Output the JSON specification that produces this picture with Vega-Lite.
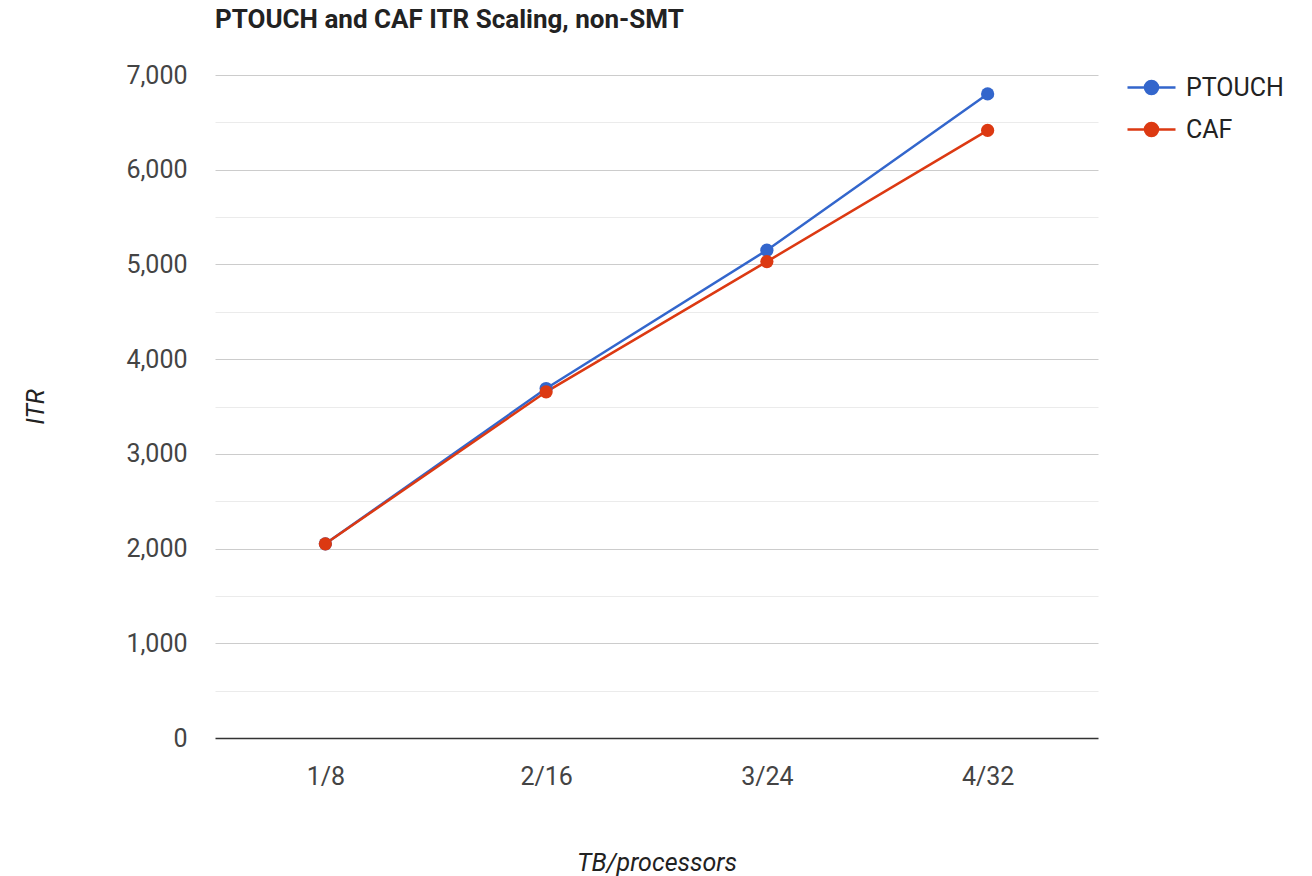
{
  "$schema": "https://vega.github.io/schema/vega-lite/v6.json",
  "autosize": {"type": "none"},
  "width": 883,
  "height": 663,
  "padding": {"left": 215, "top": 75, "right": 214, "bottom": 138},
  "background": "white",
  "title": {
    "text": "PTOUCH and CAF ITR Scaling, non-SMT",
    "anchor": "start",
    "frame": "group",
    "font": "Roboto",
    "fontSize": 26,
    "fontWeight": "bold",
    "color": "#222222",
    "offset": 30
  },
  "config": {
    "view": {"stroke": null},
    "axis": {"labelFont": "Roboto", "titleFont": "Roboto", "labelColor": "#444444", "titleColor": "#222222"}
  },
  "data": {
    "values": [
      {"tb": "1/8", "series": "PTOUCH", "itr": 2050},
      {"tb": "2/16", "series": "PTOUCH", "itr": 3690},
      {"tb": "3/24", "series": "PTOUCH", "itr": 5150},
      {"tb": "4/32", "series": "PTOUCH", "itr": 6800},
      {"tb": "1/8", "series": "CAF", "itr": 2050},
      {"tb": "2/16", "series": "CAF", "itr": 3655},
      {"tb": "3/24", "series": "CAF", "itr": 5030},
      {"tb": "4/32", "series": "CAF", "itr": 6415}
    ]
  },
  "mark": {"type": "line", "strokeWidth": 2.5, "point": {"filled": true, "size": 175, "opacity": 1}},
  "encoding": {
    "x": {
      "field": "tb",
      "type": "ordinal",
      "sort": ["1/8", "2/16", "3/24", "4/32"],
      "scale": {"type": "point", "padding": 0.5},
      "axis": {
        "title": "TB/processors",
        "titleFontStyle": "italic",
        "titleFontWeight": "normal",
        "titleFontSize": 25,
        "titleX": 441.5,
        "titleY": 124,
        "titleBaseline": "middle",
        "labelAngle": 0,
        "labelFontSize": 25,
        "labelPadding": 26,
        "ticks": false,
        "domain": false,
        "grid": false
      }
    },
    "y": {
      "field": "itr",
      "type": "quantitative",
      "scale": {"domain": [0, 7000], "nice": false},
      "axis": {
        "title": "ITR",
        "titleFontStyle": "italic",
        "titleFontWeight": "normal",
        "titleFontSize": 25,
        "titleX": -180,
        "titleY": 331.5,
        "titleAlign": "center",
        "titleBaseline": "middle",
        "values": [0, 500, 1000, 1500, 2000, 2500, 3000, 3500, 4000, 4500, 5000, 5500, 6000, 6500, 7000],
        "labelExpr": "datum.value % 1000 === 0 ? format(datum.value, ',') : ''",
        "labelFontSize": 25,
        "labelPadding": 28,
        "ticks": false,
        "domain": false,
        "grid": true,
        "gridColor": {"condition": [{"test": "datum.value === 0", "value": "#333333"}, {"test": "datum.value % 1000 === 0", "value": "#cccccc"}], "value": "#ebebeb"},
        "gridWidth": {"condition": {"test": "datum.value === 0", "value": 1.5}, "value": 1}
      }
    },
    "color": {
      "field": "series",
      "type": "nominal",
      "sort": ["PTOUCH", "CAF"],
      "scale": {"domain": ["PTOUCH", "CAF"], "range": ["#3366cc", "#dc3912"]},
      "legend": {
        "title": null,
        "orient": "none",
        "legendX": 917,
        "legendY": -10,
        "padding": 0,
        "symbolType": "M -1.286 0 L -0.453 0 M 0.167 0 L 1 0 M -0.453 0 A 0.31 0.31 0 1 0 0.167 0 A 0.31 0.31 0 1 0 -0.453 0 Z",
        "symbolSize": 1764,
        "symbolStrokeWidth": 2.5,
        "labelFont": "Roboto",
        "labelFontSize": 25,
        "labelColor": "#222222",
        "labelOffset": 9,
        "rowPadding": 6,
        "encode": {
          "symbols": {"update": {"fill": {"scale": "color", "field": "value"}, "stroke": {"scale": "color", "field": "value"}, "opacity": {"value": 1}}}
        }
      }
    }
  }
}
